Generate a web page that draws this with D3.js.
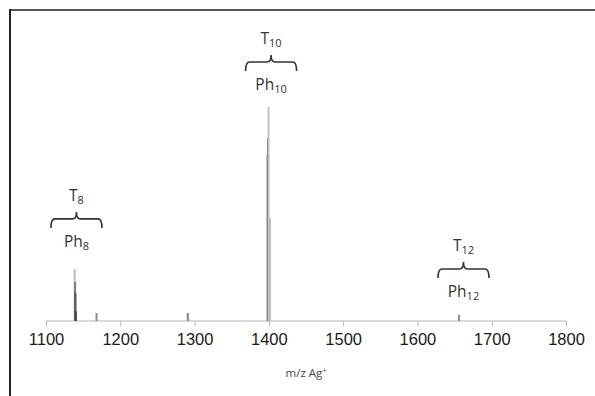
<!DOCTYPE html>
<html>
<head>
<meta charset="utf-8">
<script src="https://cdn.jsdelivr.net/npm/d3@7"></script>
<style>
  body { margin: 0; background: #fff; }
  svg { display: block; }
</style>
</head>
<body>
<svg width="595" height="396"></svg>
<script>
// peaks: m/z, relative intensity, shade
var peakMz    = [1138.6, 1139.2, 1139.6, 1140.2, 1168, 1290.8, 1291.4, 1398.3, 1398.9, 1399.6, 1401.5, 1656];
var peakInt   = [24.3, 18.2, 13, 4.5, 3.7, 3.7, 2.2, 77.6, 85.5, 100, 48, 2.8];
var peakShade = ["#bdbdbd", "#7a7a7a", "#555555", "#444444", "#8a8a8a", "#7a7a7a", "#999999", "#6a6a6a", "#5a5a5a", "#c4c4c4", "#bdbdbd", "#8a8a8a"];

var xTicks = [1100, 1200, 1300, 1400, 1500, 1600, 1700, 1800];

// cluster annotations
var annoName  = ["8", "10", "12"];
var annoMz    = [1141, 1403, 1662];
var annoLevel = [47.7, 121, 24.3]; // brace line height in intensity units

var svg = d3.select("svg");

var x = d3.scaleLinear().domain([1100, 1800]).range([46, 566]);
var y = d3.scaleLinear().domain([0, 100]).range([321, 107]);

// frame lines
svg.append("line").attr("x1", 9).attr("x2", 595).attr("y1", 10).attr("y2", 10)
    .style("stroke", "#555").style("stroke-width", 2);
svg.append("line").attr("x1", 10).attr("x2", 10).attr("y1", 9).attr("y2", 396)
    .style("stroke", "#222").style("stroke-width", 2);

// axis
var axis = d3.axisBottom(x).tickValues(xTicks).tickSize(5).tickPadding(7).tickFormat(d3.format("d"));
var g = svg.append("g").attr("transform", "translate(0," + y(0) + ")").call(axis);
g.select(".domain").style("stroke", "#b5b5b5").attr("d", "M" + x(1100) + ",0H" + x(1800));
g.selectAll(".tick line").style("stroke", "#b5b5b5");
g.selectAll(".tick text").style("font-family", "Liberation Sans, Arial, sans-serif")
    .style("font-size", "16.5px").style("fill", "#1a1a1a");

// peaks
svg.selectAll(".peak")
    .data(peakMz)
    .enter().append("rect")
    .attr("class", "peak")
    .attr("x", (d, i) => x(d) - 1)
    .attr("width", 2)
    .attr("y", (d, i) => y(peakInt[i]))
    .attr("height", (d, i) => y(0) - y(peakInt[i]))
    .style("fill", (d, i) => peakShade[i]);

// axis title
var t = svg.append("text").attr("x", 306).attr("y", 377).attr("text-anchor", "middle")
    .style("font-family", "Open Sans, sans-serif").style("font-size", "11.5px").style("fill", "#444");
t.append("tspan").text("m/z Ag");
t.append("tspan").attr("dy", -4).style("font-size", "7px").text("+");

// braces with labels
var halfW = 25.5;
annoName.forEach(function (n, i) {
    var cx = x(annoMz[i]);
    var yl = y(annoLevel[i]);
    var l = cx - halfW, r = cx + halfW, r0 = 4;
    var p = "M" + l + "," + (yl + 9) +
        "Q" + l + "," + yl + " " + (l + r0) + "," + yl +
        "L" + (cx - r0) + "," + yl +
        "Q" + cx + "," + yl + " " + cx + "," + (yl - 7) +
        "Q" + cx + "," + yl + " " + (cx + r0) + "," + yl +
        "L" + (r - r0) + "," + yl +
        "Q" + r + "," + yl + " " + r + "," + (yl + 9);
    svg.append("path").attr("d", p).style("fill", "none")
        .style("stroke", "#333").style("stroke-width", 1.6);

    var top = svg.append("text").attr("x", cx).attr("y", yl - 18).attr("text-anchor", "middle")
        .style("font-family", "Open Sans, sans-serif").style("font-size", "15.5px").style("fill", "#333");
    top.append("tspan").text("T");
    top.append("tspan").attr("dy", 3).style("font-size", "11px").text(n);

    var bot = svg.append("text").attr("x", cx).attr("y", yl + 28).attr("text-anchor", "middle")
        .style("font-family", "Open Sans, sans-serif").style("font-size", "15.5px").style("fill", "#333");
    bot.append("tspan").text("Ph");
    bot.append("tspan").attr("dy", 3).style("font-size", "11px").text(n);
});
</script>
</body>
</html>
